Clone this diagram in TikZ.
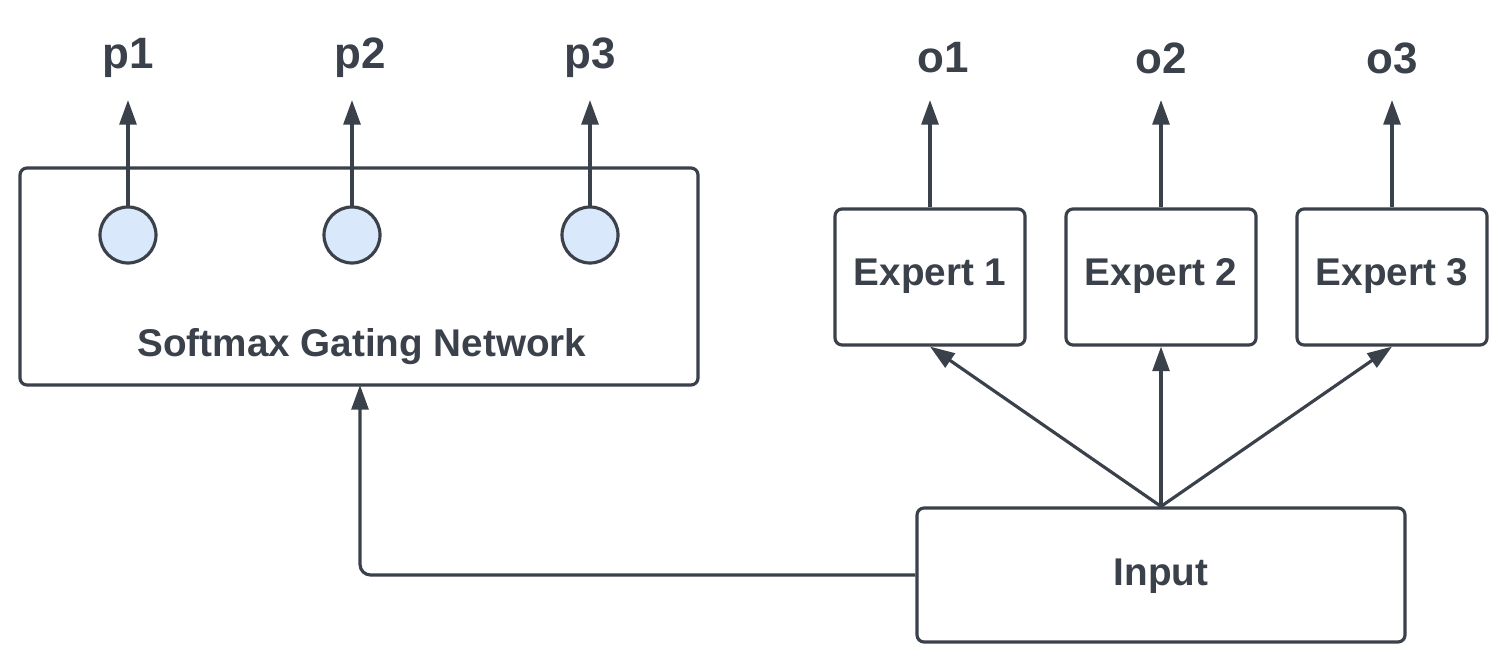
\documentclass[tikz,border=0pt]{standalone}
\usepackage{fontspec}
\setmainfont{Liberation Sans}
\usepackage{tikz}
\usetikzlibrary{positioning,arrows.meta}
\definecolor{ink}{HTML}{3A414A}
\definecolor{gatefill}{HTML}{DAE8FC}

\begin{document}
\begin{tikzpicture}[
    line width=0.9pt, draw=ink, text=ink,
    font=\fontsize{11}{13}\selectfont\bfseries,
    box/.style={draw=ink, rounded corners=2pt, inner sep=0pt},
    unit/.style={draw=ink, circle, fill=gatefill, minimum size=0.56cm, inner sep=0pt},
    arr/.style={draw=ink, -{Triangle[length=7pt, width=4.8pt]}},
    lbl/.style={font=\fontsize{12.5}{14}\selectfont\bfseries}
  ]
  \useasboundingbox (0,0) rectangle (15.08,6.64);
  % gating network
  \node[box, minimum width=6.78cm, minimum height=2.17cm] (gate) at (3.59,3.875) {};
  \node (gatetext) at (3.62,3.17) {Softmax Gating Network};
  \foreach \i/\x/\lx in {1/1.28/1.28, 2/3.52/3.60, 3/5.90/5.90} {
    \coordinate (ptip\i) at (\x,5.64);
    \draw[arr] (\x,4.29) -- (ptip\i);
    \node[unit] (g\i) at (\x,4.29) {};
    \node[lbl] (p\i) at (\lx,6.06) {p\i};
  }
  % experts
  \node[box, minimum width=4.88cm, minimum height=1.34cm] (input) at (11.61,0.89) {};
  \node (inputtext) at (11.61,0.88) {Input};
  \foreach \i/\x/\lx in {1/9.30/9.43, 2/11.61/11.61, 3/13.92/13.92} {
    \node[box, minimum width=1.90cm, minimum height=1.36cm] (e\i) at (\x,3.87) {};
    \node (etext\i) at (\x,3.88) {Expert \i};
    \coordinate (otip\i) at (\x,5.64);
    \draw[arr] (e\i.north) -- (otip\i);
    \node[lbl] (o\i) at (\lx,6.06) {o\i};
    \draw[arr] (input.north) -- (e\i.south);
  }
  % input to gate
  \coordinate (gatein) at (3.60,2.79);
  \draw[arr, rounded corners=3pt] (input.west) -| (gatein);
\end{tikzpicture}
\end{document}
